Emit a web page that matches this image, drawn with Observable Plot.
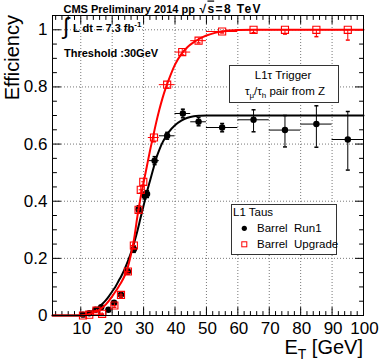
<!DOCTYPE html>
<html><head><meta charset="utf-8">
<script src="https://cdn.jsdelivr.net/npm/d3@7"></script>
<script src="https://cdn.jsdelivr.net/npm/@observablehq/plot@0.6"></script>
<style>body{margin:0;background:#fff} svg{display:block}</style>
</head><body><div id="chart"></div>
<script>
// ---- Run1 (black dots) ----
const run1E      = [10.7, 12.7, 14.7, 16.5, 18.8, 20.6, 22.8, 25.0, 26.9, 28.4, 30.3, 31.1, 33.5, 37.5, 42.5, 47.5, 55, 65, 75, 85, 95];
const run1Eff    = [0.003, 0.008, 0.020, 0.029, 0.020, 0.045, 0.073, 0.154, 0.232, 0.372, 0.420, 0.425, 0.542, 0.629, 0.707, 0.678, 0.658, 0.685, 0.649, 0.670, 0.616];
const run1ELo    = [9.9, 11.9, 13.9, 15.7, 18.0, 19.8, 22.0, 24.2, 26.1, 27.9, 29.8, 30.6, 31.5, 35, 40, 45, 50, 60, 70, 80, 90];
const run1EHi    = [11.5, 13.5, 15.5, 17.3, 19.6, 21.4, 23.6, 25.8, 27.7, 28.9, 30.8, 31.6, 35, 40, 45, 50, 60, 70, 80, 90, 100];
const run1EffLo  = [0.000, 0.005, 0.016, 0.024, 0.016, 0.039, 0.066, 0.146, 0.221, 0.360, 0.408, 0.413, 0.528, 0.617, 0.692, 0.664, 0.643, 0.643, 0.590, 0.589, 0.509];
const run1EffHi  = [0.006, 0.011, 0.024, 0.034, 0.024, 0.051, 0.080, 0.162, 0.243, 0.384, 0.432, 0.437, 0.556, 0.641, 0.722, 0.693, 0.672, 0.720, 0.700, 0.734, 0.714];

// ---- Upgrade (red open squares) ----
const upE      = [10.7, 12.7, 15.0, 16.8, 20.7, 22.8, 25.0, 26.9, 28.4, 29.1, 29.9, 33.3, 37.5, 42.3, 47.5, 55, 65, 75, 85, 95];
const upEff    = [0.000, 0.003, 0.017, 0.006, 0.035, 0.072, 0.154, 0.245, 0.370, 0.440, 0.468, 0.623, 0.808, 0.922, 0.962, 0.994, 1.0, 1.0, 1.0, 1.0];
const upELo    = [9.9, 11.9, 14.2, 16.0, 19.9, 22.0, 24.2, 26.1, 27.9, 28.6, 29.4, 31.5, 35, 40, 45, 50, 60, 70, 80, 90];
const upEHi    = [11.5, 13.5, 15.8, 17.6, 21.5, 23.6, 25.8, 27.7, 28.9, 29.6, 30.4, 35, 40, 45, 50, 60, 70, 80, 90, 100];
const upEffLo  = [0.000, 0.001, 0.013, 0.003, 0.029, 0.065, 0.146, 0.234, 0.358, 0.428, 0.456, 0.608, 0.796, 0.912, 0.954, 0.989, 0.990, 0.985, 0.976, 0.964];
const upEffHi  = [0.003, 0.006, 0.021, 0.010, 0.041, 0.079, 0.162, 0.256, 0.382, 0.452, 0.480, 0.638, 0.820, 0.932, 0.970, 0.998, 1.0, 1.0, 1.0, 1.0];

// ---- fitted turn-on curves ----
const fitE    = [1, 10, 11, 12, 13, 14, 15, 16, 17, 18, 19, 20, 21, 22, 23, 24, 25, 26, 27, 28, 29, 30, 31, 32, 33, 34, 35, 36, 37, 38, 40, 42, 44, 46, 48, 50, 53, 56, 60, 65, 100];
const run1Fit = [0, 0, 0.002, 0.006, 0.011, 0.017, 0.024, 0.032, 0.042, 0.054, 0.068, 0.084, 0.100, 0.120, 0.140, 0.163, 0.190, 0.220, 0.255, 0.295, 0.340, 0.385, 0.430, 0.470, 0.510, 0.550, 0.580, 0.605, 0.625, 0.642, 0.666, 0.682, 0.692, 0.697, 0.699, 0.700, 0.700, 0.700, 0.700, 0.700, 0.700];
const upFit   = [0, 0, 0.001, 0.003, 0.006, 0.010, 0.015, 0.021, 0.029, 0.039, 0.052, 0.067, 0.083, 0.100, 0.118, 0.140, 0.170, 0.215, 0.270, 0.345, 0.410, 0.465, 0.520, 0.575, 0.625, 0.675, 0.720, 0.760, 0.795, 0.825, 0.878, 0.915, 0.940, 0.957, 0.970, 0.980, 0.990, 0.996, 0.999, 1.0, 1.0];

// ---- axes ----
const xMajor = [10, 20, 30, 40, 50, 60, 70, 80, 90, 100];
const yMajor = [0, 0.2, 0.4, 0.6, 0.8, 1.0];
const xGrid = [10, 20, 30, 40, 50, 60, 70, 80, 90];
const yGrid = [0.2, 0.4, 0.6, 0.8, 1.0];
const xMinor = d3.range(2, 100, 2).filter(d => d % 10 !== 0);
const yMinor = d3.range(1, 21).filter(i => i % 4 !== 0).map(i => i * 0.05);

const run1 = run1E.map((e, i) => ({e, eff: run1Eff[i], elo: run1ELo[i], ehi: run1EHi[i], lo: run1EffLo[i], hi: run1EffHi[i]}));
const up = upE.map((e, i) => ({e, eff: upEff[i], elo: upELo[i], ehi: upEHi[i], lo: upEffLo[i], hi: upEffHi[i]}));
const run1Curve = fitE.map((e, i) => ({e, eff: run1Fit[i]}));
const upCurve = fitE.map((e, i) => ({e, eff: upFit[i]}));

const FONT = "'Liberation Sans', Arial, Helvetica, sans-serif";
const tickShape = {draw(ctx, l) { ctx.moveTo(0, 0); ctx.lineTo(0, -l); }};
const capSymbol = {draw(ctx, size) { const w = Math.sqrt(size / Math.PI); ctx.moveTo(-w, 0); ctx.lineTo(w, 0); }};
const T = {shape: tickShape, stroke: "black", strokeWidth: 1, anchor: "start"};

function annotations(index, scales, values, dim) {
  const L = dim.marginLeft, Tp = dim.marginTop, R = dim.width - dim.marginRight, B = dim.height - dim.marginBottom;
  const g = d3.create("svg:g").attr("font-family", FONT).attr("fill", "black").attr("text-anchor", "start");
  // header
  g.append("text").attr("x", L + 11.5).attr("y", Tp - 2.5).attr("font-size", 11).attr("font-weight", "bold").text("CMS Preliminary 2014 pp");
  const h = g.append("text").attr("x", L + 147.5).attr("y", Tp - 2.5).attr("font-size", 12).attr("font-weight", "bold")
    .attr("textLength", 61).attr("lengthAdjust", "spacing");
  h.append("tspan").text("√");
  h.append("tspan").attr("text-decoration", "overline").text("s");
  h.append("tspan").text("=8 TeV");
  // integrated luminosity
  g.append("text").attr("x", L + 11).attr("y", Tp + 19).attr("font-size", 23).text("∫");
  const lum = g.append("text").attr("x", L + 21).attr("y", Tp + 17).attr("font-size", 11).attr("font-weight", "bold");
  lum.append("tspan").text("L dt = 7.3 fb");
  lum.append("tspan").attr("font-size", 8).attr("dy", -5).text("-1");
  g.append("text").attr("x", L + 12).attr("y", Tp + 42).attr("font-size", 11).attr("font-weight", "bold").text("Threshold :30GeV");
  // legend 1
  g.append("rect").attr("x", L + 177.5).attr("y", Tp + 50.5).attr("width", 109).attr("height", 37).attr("fill", "white").attr("stroke", "#333");
  g.append("text").attr("x", L + 231).attr("y", Tp + 64).attr("font-size", 11.5).attr("text-anchor", "middle").text("L1τ Trigger");
  const t2 = g.append("text").attr("x", L + 233).attr("y", Tp + 79.5).attr("font-size", 11.5).attr("text-anchor", "middle");
  t2.append("tspan").text("τ");
  t2.append("tspan").attr("font-size", 8).attr("dy", 3).text("μ");
  t2.append("tspan").attr("dy", -3).text("/τ");
  t2.append("tspan").attr("font-size", 8).attr("dy", 3).text("h");
  t2.append("tspan").attr("dy", -3).text(" pair from Z");
  // legend 2
  g.append("rect").attr("x", L + 179.5).attr("y", Tp + 189.5).attr("width", 105).attr("height", 50).attr("fill", "white").attr("stroke", "#333");
  g.append("text").attr("x", L + 181).attr("y", Tp + 201).attr("font-size", 11.5).text("L1 Taus");
  g.append("text").attr("x", L + 205).attr("y", Tp + 217).attr("font-size", 11.5).style("white-space", "pre").text("Barrel  Run1");
  g.append("text").attr("x", L + 205).attr("y", Tp + 233).attr("font-size", 11.5).style("white-space", "pre").text("Barrel  Upgrade");
  g.append("circle").attr("cx", L + 192.3).attr("cy", Tp + 213.3).attr("r", 2.6).attr("fill", "black");
  g.append("rect").attr("x", L + 189.8).attr("y", Tp + 226.8).attr("width", 5).attr("height", 5).attr("fill", "none").attr("stroke", "red");
  // axis titles
  const xt = g.append("text").attr("x", R).attr("y", B + 39).attr("font-size", 20).attr("text-anchor", "end");
  xt.append("tspan").text("E");
  xt.append("tspan").attr("font-size", 14).attr("dy", 5).text("T");
  xt.append("tspan").attr("dy", -5).style("white-space", "pre").text(" [GeV]");
  g.append("text").attr("transform", `translate(${L - 33.5},${Tp}) rotate(-90)`).attr("font-size", 20).attr("text-anchor", "end").text("Efficiency");
  return g.node();
}

const chart = Plot.plot({
  width: 379, height: 364,
  marginLeft: 52, marginRight: 16, marginTop: 15, marginBottom: 49,
  x: {domain: [1, 100]},
  y: {domain: [0, 1.05]},
  style: {fontFamily: FONT, background: "white", color: "black", overflow: "visible"},
  marks: [
    Plot.ruleX(xGrid, {x: d => d, stroke: "#777", strokeDasharray: "1,2"}),
    Plot.ruleY(yGrid, {y: d => d, stroke: "#777", strokeDasharray: "1,2"}),
    // frame ticks (pointing inward)
    Plot.vector(xMajor, {x: d => d, y: 0, rotate: 0, length: 8, ...T}),
    Plot.vector(xMinor, {x: d => d, y: 0, rotate: 0, length: 4, ...T}),
    Plot.vector(xMajor, {x: d => d, y: 1.05, rotate: 180, length: 8, ...T}),
    Plot.vector(xMinor, {x: d => d, y: 1.05, rotate: 180, length: 4, ...T}),
    Plot.vector(yMajor, {x: 1, y: d => d, rotate: 90, length: 8, ...T}),
    Plot.vector(yMinor, {x: 1, y: d => d, rotate: 90, length: 4, ...T}),
    Plot.vector(yMajor, {x: 100, y: d => d, rotate: 270, length: 8, ...T}),
    Plot.vector(yMinor, {x: 100, y: d => d, rotate: 270, length: 4, ...T}),
    Plot.axisX(xMajor, {anchor: "bottom", tickSize: 0, tickPadding: 6, fontSize: 17, dx: 1, tickFormat: d => String(d), label: null}),
    Plot.axisY(yMajor, {anchor: "left", tickSize: 0, tickPadding: 5, fontSize: 17, tickFormat: d3.format("~g"), label: null}),
    // run1
    Plot.line(run1Curve, {x: "e", y: "eff", stroke: "black", strokeWidth: 2, curve: "monotone-x"}),
    Plot.ruleY(run1, {y: "eff", x1: "elo", x2: "ehi", stroke: "black", strokeWidth: 1}),
    Plot.ruleX(run1, {x: "e", y1: "lo", y2: "hi", stroke: "black", strokeWidth: 1}),
    Plot.dot(run1, {x: "e", y: "lo", symbol: capSymbol, r: 2, stroke: "black", fill: "none"}),
    Plot.dot(run1, {x: "e", y: "hi", symbol: capSymbol, r: 2, stroke: "black", fill: "none"}),
    Plot.dot(run1, {x: "e", y: "eff", r: 3.2, fill: "black", stroke: "none"}),
    // upgrade
    Plot.line(upCurve, {x: "e", y: "eff", stroke: "red", strokeWidth: 2, curve: "monotone-x"}),
    Plot.ruleY(up, {y: "eff", x1: "elo", x2: "ehi", stroke: "red", strokeWidth: 1}),
    Plot.ruleX(up, {x: "e", y1: "lo", y2: "hi", stroke: "red", strokeWidth: 1}),
    Plot.dot(up, {x: "e", y: "lo", symbol: capSymbol, r: 2, stroke: "red", fill: "none"}),
    Plot.dot(up, {x: "e", y: "eff", symbol: "square", r: 4, stroke: "red", strokeWidth: 1.1, fill: "none"}),
    Plot.frame({stroke: "black"}),
    annotations
  ]
});
document.getElementById("chart").append(chart);
</script>
</body></html>
